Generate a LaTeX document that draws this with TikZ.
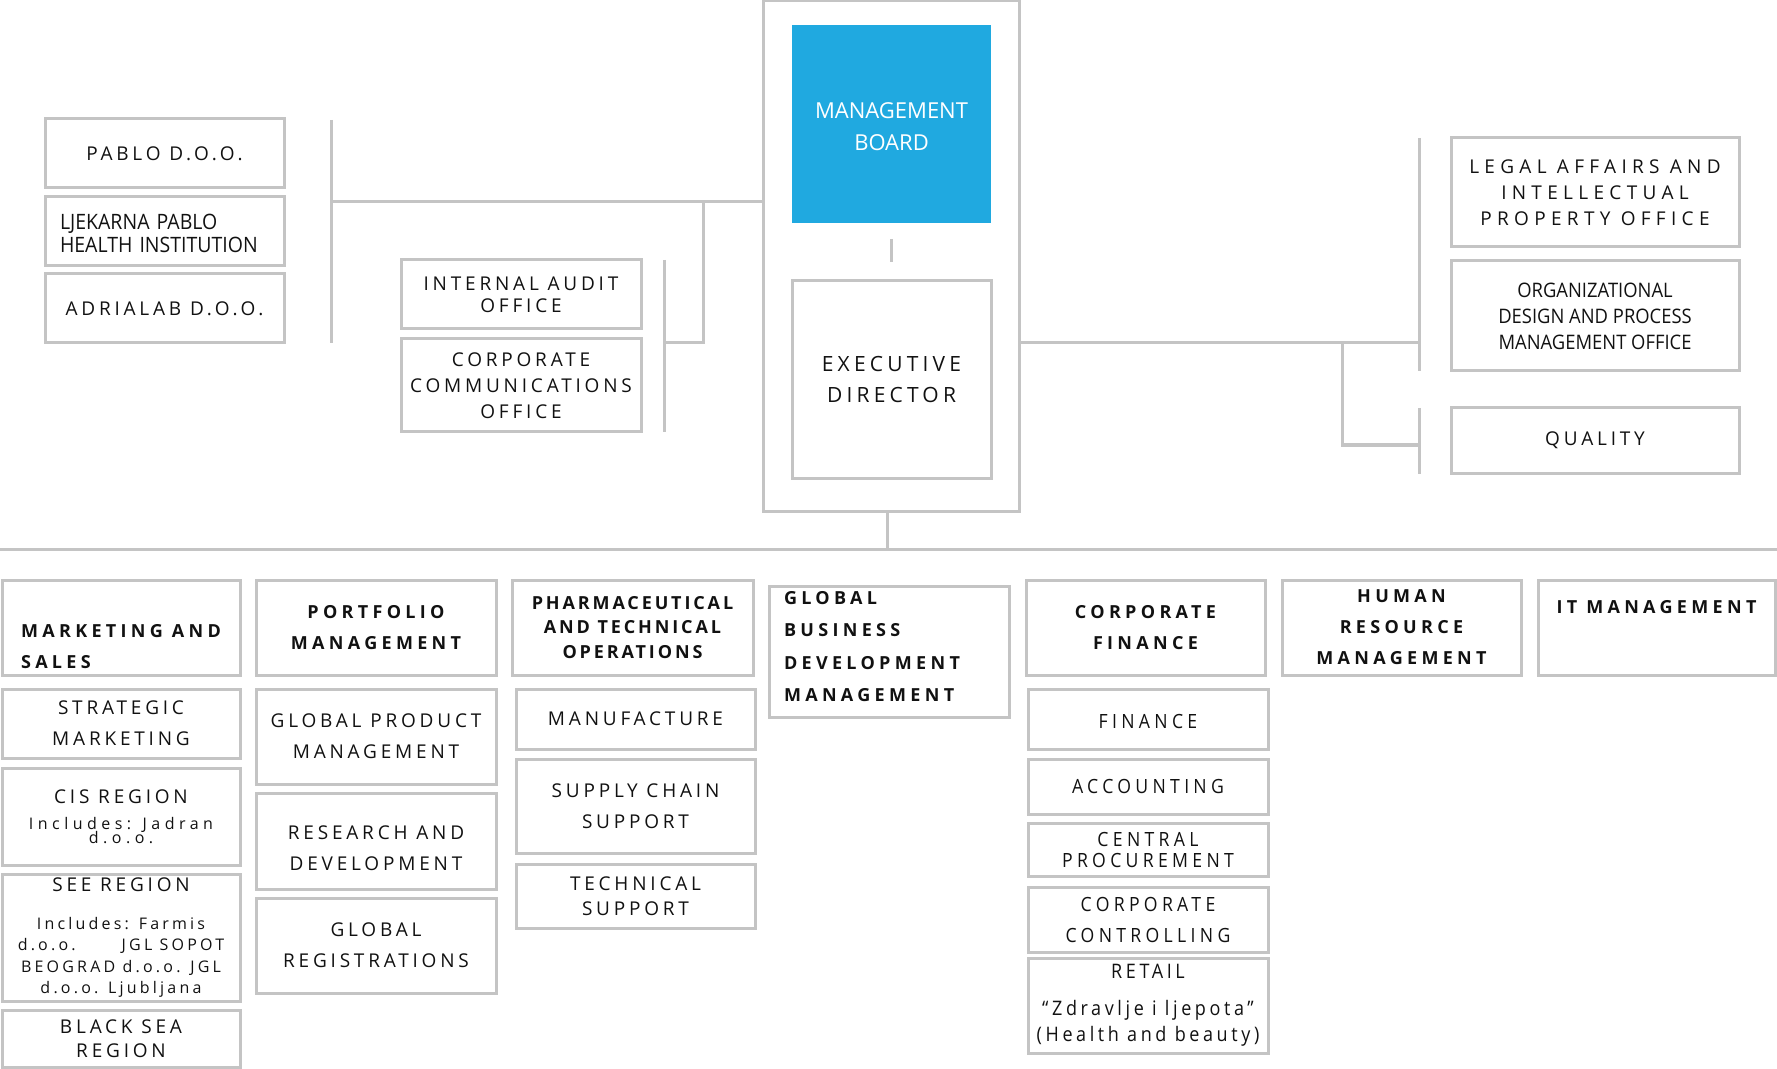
\documentclass[tikz,border=0pt]{standalone}
\usepackage{fontspec}
\setmainfont{Open Sans}
\newfontfamily\spaced[LetterSpace=20]{Open Sans}
\newfontfamily\spacedwide[LetterSpace=28]{Open Sans}
\newfontfamily\spacedbf[LetterSpace=24]{Open Sans}
\newfontfamily\spacedbfn[LetterSpace=16]{Open Sans}
\newfontfamily\narrow[FakeStretch=0.92]{Open Sans}
\newfontfamily\narrowsp[FakeStretch=0.9,LetterSpace=22]{Open Sans}
\newfontfamily\narrowspr[FakeStretch=0.9,LetterSpace=18]{Open Sans}
\newcommand\inclfont{\spaced\fontsize{8}{9}\selectfont}
\newcommand\inclwide{\spacedwide\fontsize{8}{9}\selectfont}
\definecolor{linegray}{HTML}{C4C4C4}
\definecolor{boardblue}{HTML}{20A9E0}
\definecolor{inkblack}{HTML}{111111}
\begin{document}
\begin{tikzpicture}[x=0.5pt,y=-0.5pt,inner sep=0pt,outer sep=0pt,
orgbox/.style={draw=linegray,line width=1.5pt,rectangle,align=center,text=inkblack,font=\spaced\fontsize{9.5}{15.5}\selectfont},
headbox/.style={orgbox,font=\spacedbf\bfseries\fontsize{9}{15.5}\selectfont},
narrowbox/.style={orgbox,font=\narrow\fontsize{10}{13}\selectfont},
condbox/.style={orgbox,font=\narrowsp\fontsize{9.8}{15.5}\selectfont},
wire/.style={draw=linegray,line width=1.5pt}]
\useasboundingbox (0,0) rectangle (1777,1069);

\draw (891,256) node[orgbox,minimum width=128pt,minimum height=255pt] (core) {};
\draw (891.5,124) node[rectangle,fill=boardblue,text=white,align=center,minimum width=99.5pt,minimum height=99pt,font=\rmfamily\fontsize{11}{16}\selectfont] (mgmt) {\rule{0pt}{10.5pt}MANAGEMENT\\BOARD};
\draw (891.5,379.5) node[orgbox,minimum width=99.5pt,minimum height=98.5pt,font=\spaced\fontsize{10.5}{15.5}\selectfont] (exec) {EXECUTIVE\\DIRECTOR};

\draw (164.5,153.5) node[orgbox,minimum width=119.5pt,minimum height=34.5pt] (pablo) {PABLO D.O.O.};
\draw (164.5,231.5) node[narrowbox,align=left,text width=104.5pt,minimum width=119.5pt,minimum height=34.5pt,font=\narrow\fontsize{10.6}{11.5}\selectfont] (ljekarna) {\rule{0pt}{10pt}LJEKARNA PABLO\\HEALTH INSTITUTION};
\draw (164.5,308.5) node[orgbox,minimum width=119.5pt,minimum height=34.5pt] (adrialab) {ADRIALAB D.O.O.};
\draw (521,294.5) node[orgbox,minimum width=120pt,minimum height=34.5pt] (audit) {INTERNAL AUDIT\\[-4.5pt]OFFICE};
\draw (521,385.5) node[orgbox,minimum width=120pt,minimum height=46.5pt] (comms) {CORPORATE\\[-2.5pt]COMMUNICATIONS\\[-2.5pt]OFFICE};

\draw (1595,192.5) node[orgbox,minimum width=144pt,minimum height=54.5pt,font=\spacedwide\fontsize{9.5}{15.5}\selectfont] (legal) {LEGAL AFFAIRS AND\\[-2.5pt]INTELLECTUAL\\[-2.5pt]PROPERTY OFFICE};
\draw (1595,316) node[narrowbox,minimum width=144pt,minimum height=55pt] (orgdesign) {ORGANIZATIONAL\\DESIGN AND PROCESS\\MANAGEMENT OFFICE};
\draw (1595,440.5) node[orgbox,minimum width=144pt,minimum height=32.5pt] (quality) {QUALITY};

\draw (121,627.5) node[headbox,align=left,minimum width=119pt,minimum height=47.5pt] (sales) {\strut\\[-1pt]MARKETING AND\\SALES};
\draw (376,627.5) node[headbox,minimum width=120pt,minimum height=47.5pt] (portfolio) {PORTFOLIO\\MANAGEMENT};
\draw (632.5,627.5) node[headbox,minimum width=120.5pt,minimum height=47.5pt,font=\spacedbfn\bfseries\fontsize{9}{15.5}\selectfont] (pharma) {PHARMACEUTICAL\\[-3.2pt]AND TECHNICAL\\[-3.2pt]OPERATIONS};
\draw (889,651.5) node[headbox,align=left,text width=105pt,minimum width=120pt,minimum height=65.5pt,font=\spacedbf\bfseries\fontsize{9}{16.2}\selectfont] (gbd) {GLOBAL\\BUSINESS\\DEVELOPMENT\\MANAGEMENT\rule[-5pt]{0pt}{5pt}};
\draw (1145.5,627.5) node[headbox,minimum width=119.5pt,minimum height=47.5pt] (corpfin) {CORPORATE\\FINANCE};
\draw (1401.5,627.5) node[headbox,minimum width=119.5pt,minimum height=47.5pt] (hrm) {HUMAN\\RESOURCE\\MANAGEMENT};
\draw (1656.5,627.5) node[headbox,minimum width=118.5pt,minimum height=47.5pt] (itm) {IT MANAGEMENT\\\strut};

\draw (121,723.5) node[orgbox,minimum width=119pt,minimum height=34.5pt] (strategic) {STRATEGIC\\MARKETING};
\draw (121,816.5) node[orgbox,minimum width=119pt,minimum height=48.5pt,font=\spaced\fontsize{9.5}{13}\selectfont] (cis) {CIS REGION\\\inclwide Includes: Jadran\\[-6pt]\inclwide d.o.o.};
\draw (121,937.5) node[orgbox,minimum width=119pt,minimum height=63.5pt,font=\spaced\fontsize{9.5}{10.7}\selectfont] (see) {SEE REGION\\[8.3pt]\inclfont Includes: Farmis\\\inclfont d.o.o.\hspace{23pt}JGL SOPOT\\\inclfont BEOGRAD d.o.o. JGL\\\inclfont d.o.o. Ljubljana};
\draw (121,1038.5) node[orgbox,minimum width=119pt,minimum height=28.5pt] (blacksea) {BLACK SEA\\[-3.5pt]REGION};

\draw (376,736.5) node[orgbox,minimum width=120pt,minimum height=47.5pt] (gpm) {GLOBAL PRODUCT\\MANAGEMENT};
\draw (376,841) node[orgbox,minimum width=120pt,minimum height=48pt] (rnd) {\rule{0pt}{14pt}RESEARCH AND\\DEVELOPMENT};
\draw (376,945.5) node[orgbox,minimum width=120pt,minimum height=47.5pt] (registr) {GLOBAL\\REGISTRATIONS};

\draw (635.5,719) node[orgbox,minimum width=119.5pt,minimum height=30pt] (manuf) {MANUFACTURE};
\draw (635.5,806) node[orgbox,minimum width=119.5pt,minimum height=47pt] (supply) {SUPPLY CHAIN\\SUPPORT};
\draw (635.5,896) node[orgbox,minimum width=119.5pt,minimum height=32pt] (techsup) {TECHNICAL\\[-3pt]SUPPORT};

\draw (1148,719) node[condbox,minimum width=120pt,minimum height=30pt] (finance) {\rule{0pt}{10pt}FINANCE};
\draw (1148,786.5) node[condbox,minimum width=120pt,minimum height=27.5pt] (accounting) {ACCOUNTING};
\draw (1148,849.5) node[condbox,minimum width=120pt,minimum height=26.5pt] (procure) {CENTRAL\\[-5pt]PROCUREMENT};
\draw (1148,919.5) node[condbox,minimum width=120pt,minimum height=32.5pt] (controlling) {CORPORATE\\CONTROLLING};
\draw (1148,1005.5) node[condbox,minimum width=120pt,minimum height=47.5pt,font=\narrowspr\fontsize{10}{13}\selectfont] (retail) {RETAIL\\[5.5pt]“Zdravlje i ljepota”\\(Health and beauty)};

\coordinate (busLtop) at (331,120);
\coordinate (busLbot) at (331,343);
\coordinate (busLmid) at (331,202);
\coordinate (staffA) at (703,202);
\coordinate (staffB) at (664,343);
\coordinate (busStop) at (664,260);
\coordinate (busSbot) at (664,432);
\coordinate (busRtop) at (1419,138);
\coordinate (busRbot) at (1419,371);
\coordinate (busRjoin) at (1419,343);
\coordinate (qsplit) at (1342,343);
\coordinate (qjoin) at (1419,445);
\coordinate (busQtop) at (1419,408);
\coordinate (busQbot) at (1419,474);
\coordinate (spine) at (887,549);
\coordinate (railL) at (0,549);
\coordinate (railR) at (1777,549);

\draw[wire] (busLtop) -- (busLbot);
\draw[wire] (busLmid) -- (core.west |- busLmid);
\draw[wire] (staffA) |- (staffB);
\draw[wire] (busStop) -- (busSbot);
\draw[wire] ([yshift=-8pt]mgmt.south) -- ([yshift=9.5pt]exec.north);
\draw[wire] (core.east |- busRjoin) -- (busRjoin);
\draw[wire] (busRtop) -- (busRbot);
\draw[wire] (qsplit) |- (qjoin);
\draw[wire] (busQtop) -- (busQbot);
\draw[wire] (core.south -| spine) -- (spine);
\draw[wire] (railL) -- (railR);
\end{tikzpicture}
\end{document}
